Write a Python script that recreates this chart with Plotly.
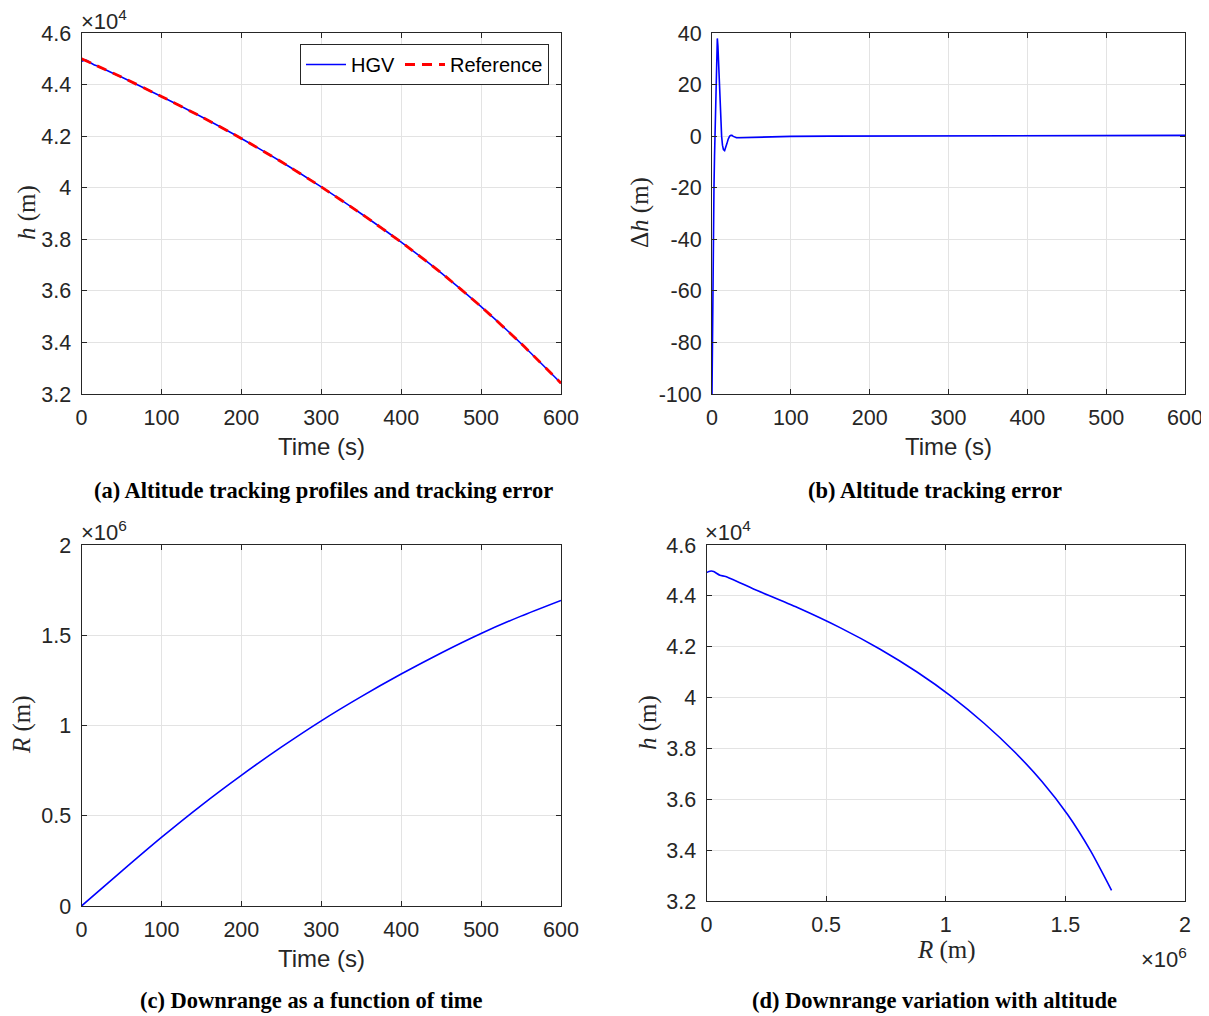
import plotly.graph_objects as go

# ---------------- data ----------------
# (a) altitude: reference and HGV (m) vs time (s)
t_ref = [0, 50, 100, 150, 200, 250, 300, 350, 400, 450, 500, 550, 600]
h_ref = [45000, 44290, 43540, 42750, 41910, 41005, 40030, 38990, 37890, 36700, 35390, 33960, 32420]

t_hgv = [0, 2, 4, 7, 10, 15, 20, 30, 50, 100, 150, 200, 250, 300, 350, 400, 450, 500, 550, 600]
h_hgv = [44900, 44922, 44946, 44938, 44869, 44782, 44715, 44573, 44290, 43540, 42750, 41910,
         41005, 40030, 38990, 37890, 36700, 35390, 33960, 32420]

# (b) altitude tracking error (m)
t_err = [0, 0.3, 0.7, 1.2, 1.8, 2.5, 3.2, 3.8, 4.4, 4.9, 5.5, 6.1, 6.75, 7.5, 8.4, 9.3, 10.3,
         11.2, 12.2, 13.3, 14.5, 16, 17.5, 19, 20.5, 22.4, 24, 25.3, 27, 29, 31, 35, 45, 60,
         80, 100, 150, 200, 300, 400, 500, 600]
dh_err = [-100, -85, -70, -55, -38, -20, -8, 0, 10, 20, 29, 35, 37.9, 35, 27, 20, 11,
          5, 0, -3.5, -5.2, -5.6, -4.5, -2.8, -1.2, 0, 0.3, 0.3, -0.1, -0.5, -0.6, -0.6, -0.5, -0.3,
          -0.2, -0.1, 0, 0.05, 0.1, 0.15, 0.2, 0.3]

# (c) downrange (m) vs time (s)
t_R = [0, 50, 100, 150, 200, 250, 300, 350, 400, 450, 500, 550, 600]
R_t = [0, 192000, 380000, 558000, 724000, 880000, 1026000, 1160000, 1285000, 1402000,
       1510000, 1606000, 1693000]

# (d) altitude (m) vs downrange (m)
R_d = [0, 10000, 20000, 30000, 56000, 80000, 192000, 380000, 558000, 724000, 880000,
       1026000, 1160000, 1285000, 1402000, 1510000, 1606000, 1693000]
h_d = [44914, 44960, 44975, 44955, 44810, 44760, 44290, 43540, 42750, 41910, 41005,
       40030, 38990, 37890, 36700, 35390, 33960, 32420]

# tick labels
time_ticks = [0, 100, 200, 300, 400, 500, 600]
h_tickvals = [32000, 34000, 36000, 38000, 40000, 42000, 44000, 46000]
h_ticktext = ["3.2", "3.4", "3.6", "3.8", "4", "4.2", "4.4", "4.6"]
err_tickvals = [-100, -80, -60, -40, -20, 0, 20, 40]
err_ticktext = ["-100", "-80", "-60", "-40", "-20", "0", "20", "40"]
R_tickvals = [0, 500000, 1000000, 1500000, 2000000]
R_ticktext = ["0", "0.5", "1", "1.5", "2"]

# ---------------- figure ----------------
# the page body has an 8px margin: the figure starts at (8, 8) and fills the rest of the window
OFF = 8
W, H = 1209 - OFF, 1016 - OFF
BLUE = "#0000ff"
RED = "#ff0000"
AX = "#262626"
GRID = "#e3e3e3"
SANS = "Liberation Sans, Arial, sans-serif"
SERIF = "Liberation Serif, Times New Roman, serif"


def px_x(x):
    return (x - OFF) / W


def px_y(y):
    return 1 - (y - OFF) / H


fig = go.Figure()

fig.add_trace(go.Scatter(x=t_hgv, y=h_hgv, mode="lines", name="HGV",
                         line=dict(color=BLUE, width=1.6, shape="spline", smoothing=0.6),
                         xaxis="x", yaxis="y"))
fig.add_trace(go.Scatter(x=t_ref, y=h_ref, mode="lines", name="Reference",
                         line=dict(color=RED, width=2.8, dash="10px,7px", shape="spline",
                                   smoothing=0.6),
                         xaxis="x", yaxis="y"))
fig.add_trace(go.Scatter(x=t_err, y=dh_err, mode="lines", showlegend=False,
                         line=dict(color=BLUE, width=1.6), xaxis="x2", yaxis="y2"))
fig.add_trace(go.Scatter(x=t_R, y=R_t, mode="lines", showlegend=False,
                         line=dict(color=BLUE, width=1.6, shape="spline", smoothing=0.6),
                         xaxis="x3", yaxis="y3"))
fig.add_trace(go.Scatter(x=R_d, y=h_d, mode="lines", showlegend=False,
                         line=dict(color=BLUE, width=1.6, shape="spline", smoothing=0.6),
                         xaxis="x4", yaxis="y4"))

common = dict(showline=True, linecolor=AX, linewidth=1, mirror="ticks",
              ticks="inside", ticklen=5, tickcolor=AX, tickwidth=1,
              showgrid=True, gridcolor=GRID, gridwidth=1, zeroline=False,
              automargin=False,
              tickfont=dict(family=SANS, size=21.5, color=AX))

dom_a_x = [px_x(81.5), px_x(561)]
dom_b_x = [px_x(712), px_x(1185)]
dom_c_x = [px_x(81.5), px_x(561)]
dom_d_x = [px_x(706.5), px_x(1185)]
dom_top_y = [px_y(394), px_y(33)]
dom_c_y = [px_y(906), px_y(545)]
dom_d_y = [px_y(901), px_y(545)]

fig.update_layout(
    width=W, height=H,
    margin=dict(l=0, r=0, t=0, b=0, autoexpand=False),
    paper_bgcolor="white", plot_bgcolor="white",
    xaxis=dict(domain=dom_a_x, anchor="y", range=[0, 600], tickvals=time_ticks,
               ticklabelstandoff=4, **common),
    yaxis=dict(domain=dom_top_y, anchor="x", range=[32000, 46000], tickvals=h_tickvals,
               ticktext=h_ticktext, ticklabelstandoff=5, **common),
    xaxis2=dict(domain=dom_b_x, anchor="y2", range=[0, 600], tickvals=time_ticks,
                ticklabelstandoff=4, **common),
    yaxis2=dict(domain=dom_top_y, anchor="x2", range=[-100, 40], tickvals=err_tickvals,
                ticktext=err_ticktext, ticklabelstandoff=5, **common),
    xaxis3=dict(domain=dom_c_x, anchor="y3", range=[0, 600], tickvals=time_ticks,
                ticklabelstandoff=4, **common),
    yaxis3=dict(domain=dom_c_y, anchor="x3", range=[0, 2000000], tickvals=R_tickvals,
                ticktext=R_ticktext, ticklabelstandoff=5, **common),
    xaxis4=dict(domain=dom_d_x, anchor="y4", range=[0, 2000000], tickvals=R_tickvals,
                ticktext=R_ticktext, ticklabelstandoff=4, **common),
    yaxis4=dict(domain=dom_d_y, anchor="x4", range=[32000, 46000], tickvals=h_tickvals,
                ticktext=h_ticktext, ticklabelstandoff=5, **common),
    legend=dict(orientation="h", x=px_x(549), xanchor="right", y=px_y(44), yanchor="top",
                xref="paper", yref="paper",
                bgcolor="white", bordercolor=AX, borderwidth=1,
                font=dict(family=SANS, size=20, color="#000000"),
                itemwidth=40, tracegroupgap=0),
    showlegend=True,
)


def ann(text, x, y, size=20, family=SANS, color=AX, xanchor="center", yanchor="middle",
        angle=0):
    fig.add_annotation(text=text, x=px_x(x), y=px_y(y), xref="paper", yref="paper",
                       showarrow=False, xanchor=xanchor, yanchor=yanchor, textangle=angle,
                       borderpad=0,
                       font=dict(family=family, size=size, color=color))


# exponent labels
ann("×10<sup>4</sup>", 80, 35, size=22, xanchor="left", yanchor="bottom")
ann("×10<sup>6</sup>", 80, 546, size=22, xanchor="left", yanchor="bottom")
ann("×10<sup>4</sup>", 704, 546, size=22, xanchor="left", yanchor="bottom")
ann("×10<sup>6</sup>", 1188, 958, size=22, xanchor="right")

# axis titles
ann("Time (s)", 321, 446, size=24)
ann("Time (s)", 948, 446, size=24)
ann("Time (s)", 321, 958, size=24)
ann("<i>R</i> (m)", 946, 950, size=25, family=SERIF)
ann("<i>h</i> (m)", 27, 213, size=25, family=SERIF, angle=-90)
ann("Δ<i>h</i> (m)", 640, 213, size=25, family=SERIF, angle=-90)
ann("<i>R</i> (m)", 22, 725, size=25, family=SERIF, angle=-90)
ann("<i>h</i> (m)", 648, 723, size=25, family=SERIF, angle=-90)

# captions
CAP = dict(size=22.5, family=SERIF, color="#000000")
ann("<b>(a) Altitude tracking profiles and tracking error</b>", 323.5, 490, **CAP)
ann("<b>(b) Altitude tracking error</b>", 934.5, 490, **CAP)
ann("<b>(c) Downrange as a function of time</b>", 310.5, 1000, **CAP)
ann("<b>(d) Downrange variation with altitude</b>", 934.5, 1000, **CAP)

fig.write_html("out.html")
